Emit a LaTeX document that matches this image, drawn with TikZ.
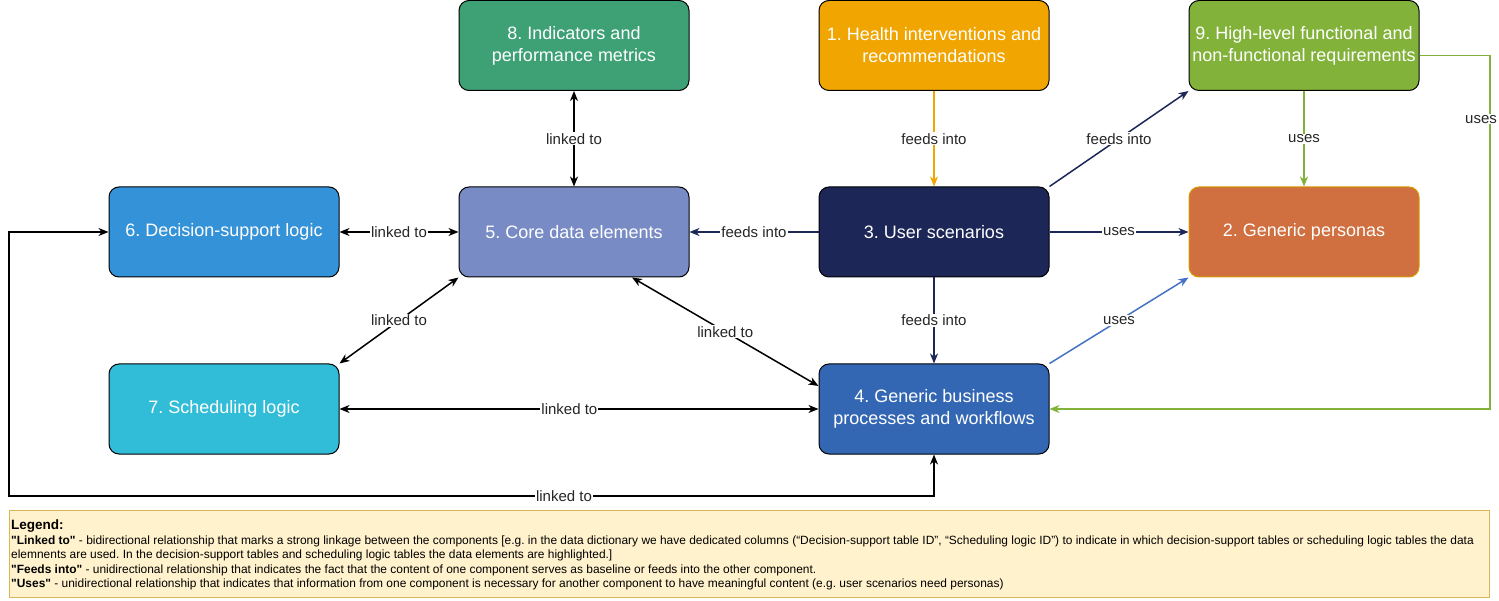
\documentclass[tikz,border=0pt]{standalone}
\usepackage{fontspec}
\usepackage{tikz}
\usepackage{xcolor}
\usetikzlibrary{
    arrows.meta,
    shapes,
    shapes.misc
}
\setmainfont{Liberation Sans}
\frenchspacing
\definecolor{indgreen}{HTML}{3DA175}
\definecolor{healthorange}{HTML}{F0A500}
\definecolor{reqgreen}{HTML}{82B23A}
\definecolor{dssblue}{HTML}{3492D8}
\definecolor{corepurple}{HTML}{788BC5}
\definecolor{scennavy}{HTML}{1C2757}
\definecolor{persorange}{HTML}{D06F40}
\definecolor{persborder}{HTML}{D79B00}
\definecolor{schedcyan}{HTML}{31BDD8}
\definecolor{procblue}{HTML}{3467B3}
\definecolor{usesblue}{HTML}{4472C4}
\definecolor{legendfill}{HTML}{FFF2CC}
\definecolor{legendborder}{HTML}{D6B656}

\begin{document}
\begin{tikzpicture}[x=1pt, y=-1pt,
    >={Stealth[length=10pt, width=8pt, inset=3pt]},
    comp/.style={draw=black, line width=1pt, rounded corners=10pt, minimum width=230pt, minimum height=90pt,
                 text=white, align=center, font=\fontsize{18}{22}\selectfont},
    lbl/.style={fill=white, inner sep=1pt, text=black!85, font=\fontsize{15}{18}\selectfont},
    conn/.style={line width=1.5pt}
]
            \useasboundingbox (0,0) rectangle (1499,601);

            \node[comp, fill=indgreen] (box8) at (574, 45.5) {8. Indicators and\\performance metrics};
            \node[comp, fill=healthorange] (box1) at (934, 45.5) {1. Health interventions and\\recommendations};
            \node[comp, fill=reqgreen] (box9) at (1304, 45.5) {9. High-level functional and\\non-functional requirements};

            \node[comp, fill=dssblue] (box6) at (224, 232) {6. Decision-support logic};
            \node[comp, fill=corepurple] (box5) at (574, 232) {5. Core data elements};
            \node[comp, fill=scennavy] (box3) at (934, 232) {3. User scenarios};
            \node[comp, fill=persorange, draw=persborder] (box2) at (1304, 232) {2. Generic personas};

            \node[comp, fill=schedcyan] (box7) at (224, 409) {7. Scheduling logic};
            \node[comp, fill=procblue] (box4) at (934, 409) {4. Generic business\\processes and workflows};

            \coordinate (loopL) at (9, 496);
            \coordinate (reqR) at (1490, 0);

            \draw[conn, <->] (box8) -- node[lbl] {linked to} (box5);
            \draw[conn, ->, healthorange] (box1) -- node[lbl] {feeds into} (box3);
            \draw[conn, ->, scennavy] (box3.north east) -- node[lbl] {feeds into} (box9.south west);
            \draw[conn, ->, reqgreen] (box9) -- node[lbl] {uses} (box2);
            \draw[conn, ->, reqgreen] ([yshift=-10pt]box9.east) -| node[lbl, pos=0.59, xshift=-9pt] {uses} (reqR |- box4.east) -- (box4.east);

            \draw[conn, <->] (box6) -- node[lbl] {linked to} (box5);
            \draw[conn, ->, scennavy] (box3) -- node[lbl] {feeds into} (box5);
            \draw[conn, ->, scennavy] (box3) -- node[lbl] {uses} (box2);

            \draw[conn, <->] (box5.south west) -- node[lbl] {linked to} (box7.north east);
            \draw[conn, <->] ([xshift=58pt]box5.south) -- node[lbl] {linked to} ([yshift=23pt]box4.west);
            \draw[conn, ->, scennavy] (box3) -- node[lbl] {feeds into} (box4);
            \draw[conn, ->, usesblue] (box4.north east) -- node[lbl] {uses} (box2.south west);

            \draw[conn, <->] (box7) -- node[lbl, pos=0.48] {linked to} (box4);
            \draw[conn, <->] (box4.south) |- node[lbl, pos=0.7] {linked to} (loopL) |- (box6.west);

            % legend
            \node[draw=legendborder, fill=legendfill, line width=1pt, minimum width=1480pt, minimum height=87pt,
                  inner sep=0pt, anchor=north west] (legend) at (9, 510) {};
            \node[anchor=west, inner sep=0pt, align=left, font=\fontsize{11.95}{14.4}\selectfont] (legendtxt) at ([xshift=2pt, yshift=-1pt]legend.west)
                {{\fontsize{13.5}{14.4}\selectfont\textbf{Legend:}}\\
                 \textbf{\textquotedbl Linked to\textquotedbl} - bidirectional relationship that marks a strong linkage between the components [e.g. in the data dictionary we have dedicated columns (“Decision-support table ID”, “Scheduling logic ID”) to indicate in which decision-support tables or scheduling logic tables the data\\
                 elemnents are used. In the decision-support tables and scheduling logic tables the data elements are highlighted.]\\
                 \textbf{\textquotedbl Feeds into\textquotedbl} - unidirectional relationship that indicates the fact that the content of one component serves as baseline or feeds into the other component.\\
                 \textbf{\textquotedbl Uses\textquotedbl} - unidirectional relationship that indicates that information from one component is necessary for another component to have meaningful content (e.g. user scenarios need personas)};
\end{tikzpicture}
\end{document}
